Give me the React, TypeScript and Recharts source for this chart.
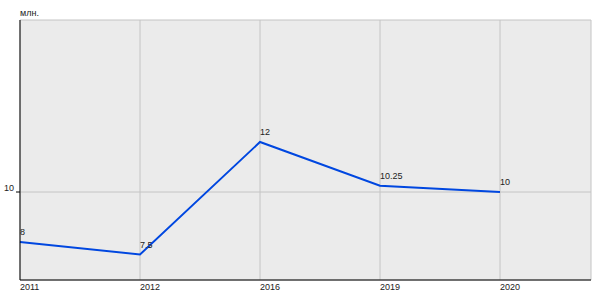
import React from "react";
import { LineChart, Line, XAxis, YAxis, CartesianGrid, LabelList } from "recharts";

const years = ["2011", "2012", "2016", "2019", "2020"];
const values = [8, 7.5, 12, 10.25, 10];
const yTicks = [10];
const unitLabel = "млн.";

const data = years.map((y, i) => ({ year: y, value: values[i] }));

const FONT = "Liberation Sans, Arial, sans-serif";
const FS = 9;

const XTick = (props: any) => {
  const { x, payload } = props;
  return (
    <text x={x} y={290} textAnchor="start" fontSize={FS} fontFamily={FONT} fill="#222">
      {payload.value}
    </text>
  );
};

const YTick = (props: any) => {
  const { y, payload } = props;
  return (
    <text x={14} y={y - 1} textAnchor="end" fontSize={FS} fontFamily={FONT} fill="#222">
      {payload.value}
    </text>
  );
};

const PointLabel = (props: any) => {
  const { x, y, value } = props;
  return (
    <text x={x} y={y - 7} textAnchor="start" fontSize={FS} fontFamily={FONT} fill="#222">
      {value}
    </text>
  );
};

export default function App() {
  return (
    <div style={{ position: "absolute", left: 0, top: 0, width: 600, height: 300, background: "#fff" }}>
      <LineChart width={600} height={300} data={data} margin={{ top: 20, right: 9, left: 0, bottom: 0 }}>
        <CartesianGrid fill="#ebebeb" stroke="#c4c4c4" strokeWidth={1} />
        <XAxis
          dataKey="year"
          scale="point"
          padding={{ left: 0, right: 91 }}
          height={20}
          axisLine={{ stroke: "#000", strokeWidth: 1 }}
          tickLine={false}
          tick={<XTick />}
          interval={0}
        />
        <YAxis
          type="number"
          domain={[6.48, 16.88]}
          ticks={yTicks}
          width={20}
          axisLine={{ stroke: "#000", strokeWidth: 1 }}
          tickLine={{ stroke: "#000" }}
          tickSize={4}
          tick={<YTick />}
          allowDataOverflow
        />
        <Line
          dataKey="value"
          type="linear"
          stroke="#0047e0"
          strokeWidth={2}
          dot={false}
          activeDot={false}
          isAnimationActive={false}
        >
          <LabelList dataKey="value" content={<PointLabel />} />
        </Line>
      </LineChart>
      <div
        style={{
          position: "absolute",
          left: 20,
          top: 7,
          fontSize: FS,
          fontFamily: FONT,
          color: "#222",
          lineHeight: "12px",
        }}
      >
        {unitLabel}
      </div>
    </div>
  );
}
